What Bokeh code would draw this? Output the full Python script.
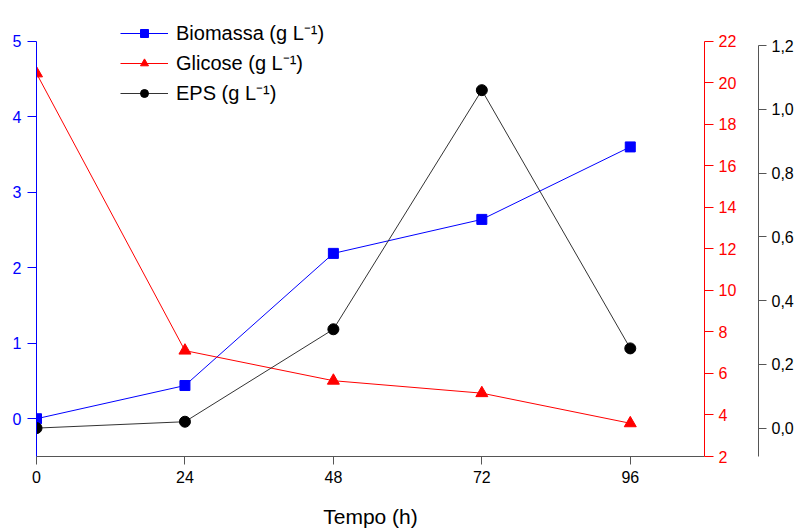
from bokeh.plotting import figure
from bokeh.models import (Range1d, LinearAxis, FixedTicker, CustomJSTickFormatter,
                          Legend, LegendItem)
from bokeh.embed import file_html
from bokeh.resources import INLINE

# ---- data ----
tempo = [0, 24, 48, 72, 96]
biomassa = [0.0, 0.44, 2.19, 2.64, 3.60]
glicose = [20.45, 7.1, 5.65, 5.05, 3.6]
eps = [0.0, 0.02, 0.31, 1.06, 0.25]

x_ticks = [0, 24, 48, 72, 96]
bio_ticks = [0, 1, 2, 3, 4, 5]
glic_ticks = [2, 4, 6, 8, 10, 12, 14, 16, 18, 20, 22]
eps_ticks = [0.0, 0.2, 0.4, 0.6, 0.8, 1.0, 1.2]
series_labels = ["Biomassa (g L\u207b\u00b9)", "Glicose (g L\u207b\u00b9)", "EPS (g L\u207b\u00b9)"]
x_title = "Tempo (h)"

FONT = "Liberation Sans"
BLUE = "#0000ff"
RED = "#ff0000"
GRAY = "#555555"

# frame extends above the axes' top ticks so that the legend fits inside it;
# the axis lines themselves are limited with `bounds`.
p = figure(width=797, height=530, output_backend="svg", toolbar_location=None,
           x_range=Range1d(0, 108), y_range=Range1d(-0.5, 5.4065),
           min_border_left=36, min_border_top=10, min_border_right=93,
           min_border_bottom=74)
p.extra_y_ranges = {"glic": Range1d(2, 23.4795), "eps": Range1d(-0.0891, 1.3099)}
p.outline_line_color = None
p.grid.visible = False
p.background_fill_color = "white"
p.border_fill_color = "white"

# x axis
xa = p.xaxis[0]
xa.ticker = FixedTicker(ticks=x_ticks)
xa.axis_label = x_title
xa.axis_label_text_font = FONT
xa.axis_label_text_font_size = "21px"
xa.axis_label_text_font_style = "normal"
xa.axis_label_text_color = "black"
xa.axis_label_standoff = 19
xa.axis_line_color = GRAY
xa.major_tick_line_color = GRAY
xa.major_tick_out = 8
xa.major_tick_in = 0
xa.minor_tick_line_color = None
xa.major_label_text_font = FONT
xa.major_label_text_font_size = "16px"
xa.major_label_text_color = "black"
xa.major_label_standoff = 6

# left (blue) axis
ya = p.yaxis[0]
ya.ticker = FixedTicker(ticks=bio_ticks)
ya.bounds = (-0.5, 5.0)
ya.axis_line_color = BLUE
ya.major_tick_line_color = BLUE
ya.major_tick_out = 9
ya.major_tick_in = 0
ya.minor_tick_line_color = None
ya.major_label_text_font = FONT
ya.major_label_text_font_size = "16px"
ya.major_label_text_color = BLUE
ya.major_label_standoff = 6

# right (red) axis
ag = LinearAxis(y_range_name="glic", ticker=FixedTicker(ticks=glic_ticks))
ag.bounds = (2, 22)
ag.axis_line_color = RED
ag.major_tick_line_color = RED
ag.major_tick_out = 9
ag.major_tick_in = 0
ag.minor_tick_line_color = None
ag.major_label_text_font = FONT
ag.major_label_text_font_size = "16px"
ag.major_label_text_color = RED
ag.major_label_standoff = 5
ag.axis_label = "x"
ag.axis_label_text_alpha = 0
ag.axis_label_text_font_size = "10px"
ag.axis_label_standoff = 5
p.add_layout(ag, "right")

# far right (black) axis
ae = LinearAxis(y_range_name="eps", ticker=FixedTicker(ticks=eps_ticks))
ae.formatter = CustomJSTickFormatter(code="return tick.toFixed(1).replace('.', ',');")
ae.bounds = (-0.095, 1.2)
ae.axis_line_color = GRAY
ae.major_tick_line_color = GRAY
ae.major_tick_out = 8
ae.major_tick_in = 0
ae.minor_tick_line_color = None
ae.major_label_text_font = FONT
ae.major_label_text_font_size = "16px"
ae.major_label_text_color = "black"
ae.major_label_standoff = 5
p.add_layout(ae, "right")

# series
l1 = p.line(tempo, biomassa, line_color=BLUE, line_width=1)
m1 = p.scatter(tempo, biomassa, marker="square", size=10, fill_color=BLUE, line_color=BLUE)
l2 = p.line(tempo, glicose, line_color=RED, line_width=1, y_range_name="glic")
m2 = p.scatter(tempo, glicose, marker="triangle", size=12, fill_color=RED, line_color=RED,
               y_range_name="glic")
l3 = p.line(tempo, eps, line_color="#333333", line_width=1, y_range_name="eps")
m3 = p.scatter(tempo, eps, marker="circle", size=11, fill_color="black", line_color="black",
               y_range_name="eps")

legend = Legend(items=[LegendItem(label=series_labels[0], renderers=[l1, m1]),
                       LegendItem(label=series_labels[1], renderers=[l2, m2]),
                       LegendItem(label=series_labels[2], renderers=[l3, m3])],
                location=(84, 350))
legend.glyph_width = 48
legend.glyph_height = 20
legend.spacing = 3
legend.padding = 0
legend.margin = 0
legend.label_standoff = 8
legend.label_text_font = FONT
legend.label_text_font_size = "20px"
legend.label_text_color = "black"
legend.border_line_alpha = 0
legend.background_fill_alpha = 0
p.add_layout(legend, "center")

open("out.html", "w").write(file_html(p, INLINE))
